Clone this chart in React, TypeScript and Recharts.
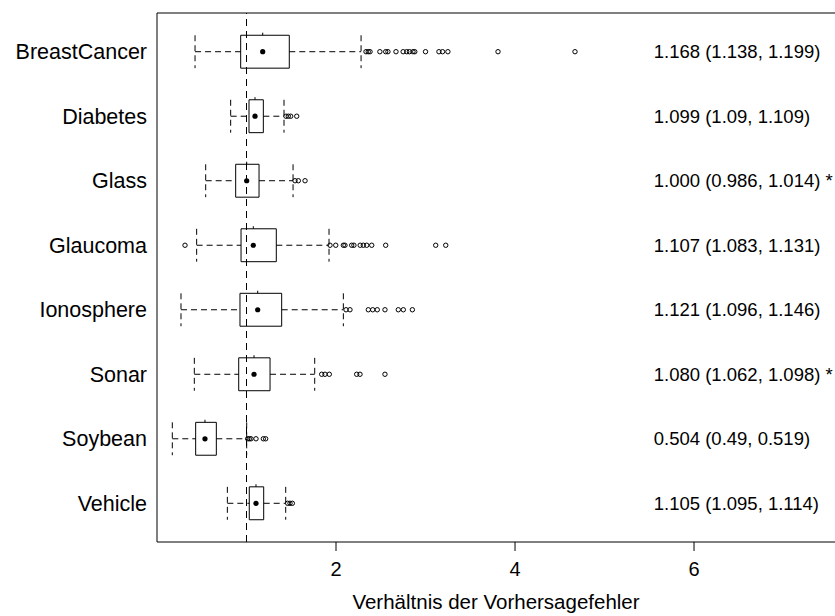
import React from 'react';
import { ComposedChart, XAxis, YAxis, Scatter, ReferenceArea, ReferenceLine, Label } from 'recharts';

const CATEGORIES = ['BreastCancer', 'Diabetes', 'Glass', 'Glaucoma', 'Ionosphere', 'Sonar', 'Soybean', 'Vehicle'];
const WHISKER_LO = [0.425, 0.823, 0.544, 0.443, 0.268, 0.417, 0.171, 0.786];
const Q1 = [0.935, 1.028, 0.879, 0.939, 0.927, 0.913, 0.432, 1.031];
const MEDIAN = [1.181, 1.095, 1.002, 1.076, 1.125, 1.084, 0.536, 1.106];
const Q3 = [1.478, 1.188, 1.14, 1.333, 1.393, 1.263, 0.663, 1.192];
const WHISKER_HI = [2.28, 1.419, 1.52, 1.922, 2.082, 1.762, 1.002, 1.438];
const OUTLIERS = [
  [2.335, 2.36, 2.38, 2.49, 2.555, 2.58, 2.67, 2.75, 2.79, 2.82, 2.86, 2.88, 3.0, 3.15, 3.19, 3.25, 3.81, 4.67],
  [1.441, 1.467, 1.494, 1.561],
  [1.542, 1.579, 1.654],
  [0.313, 1.933, 1.997, 2.082, 2.1, 2.175, 2.2, 2.27, 2.305, 2.343, 2.399, 2.555, 3.114, 3.226],
  [2.112, 2.156, 2.361, 2.41, 2.461, 2.547, 2.696, 2.752, 2.853],
  [1.84, 1.877, 1.925, 2.231, 2.268, 2.547],
  [1.013, 1.031, 1.05, 1.106, 1.188, 1.214],
  [1.46, 1.486, 1.512],
];
const SUMMARIES = [
  '1.168 (1.138, 1.199)',
  '1.099 (1.09, 1.109)',
  '1.000 (0.986, 1.014) *',
  '1.107 (1.083, 1.131)',
  '1.121 (1.096, 1.146)',
  '1.080 (1.062, 1.098) *',
  '0.504 (0.49, 0.519)',
  '1.105 (1.095, 1.114)',
];
const X_TICKS = [2, 4, 6];

const FONT = '"Liberation Sans", Arial, Helvetica, sans-serif';
const X_DOMAIN: [number, number] = [0, 7.575];
const HALF = 0.255;
const LABEL_X = 5.55;
const DASH = '6 4';

const outlierPoints = OUTLIERS.flatMap((vals, i) => vals.map(v => ({ x: v, y: i + 1 })));
const medianPoints = MEDIAN.map((v, i) => ({ x: v, y: i + 1 }));
const labelPoints = SUMMARIES.map((s, i) => ({ x: LABEL_X, y: i + 1, text: s }));

const OpenCircle = (props: any) => (
  <circle cx={props.cx} cy={props.cy} r={2.2} fill="none" stroke="#000" strokeWidth={1} />
);
const Dot = (props: any) => <circle cx={props.cx} cy={props.cy} r={2.6} fill="#000" />;
const SummaryText = (props: any) => (
  <text x={props.cx} y={props.cy} dy="0.36em" fontSize={18.5} fontFamily={FONT} fill="#000">
    {props.payload.text}
  </text>
);

export default function App() {
  return (
    <div style={{ position: 'absolute', left: 0, top: 0, background: '#fff' }}>
      <ComposedChart width={835} height={616} margin={{ top: 0, right: 0, bottom: 0, left: 0 }}>
        <XAxis
          xAxisId="t"
          orientation="top"
          type="number"
          dataKey="x"
          domain={X_DOMAIN}
          ticks={X_TICKS}
          height={13}
          tickSize={13}
          tick={false}
          stroke="#000"
          allowDataOverflow
        />
        <XAxis
          xAxisId="b"
          type="number"
          dataKey="x"
          domain={X_DOMAIN}
          ticks={X_TICKS}
          height={74}
          tickSize={9}
          tickMargin={11}
          stroke="#000"
          tick={{ fill: '#000', fontSize: 20, fontFamily: FONT }}
          allowDataOverflow
        >
          <Label
            value="Verhältnis der Vorhersagefehler"
            position="insideBottom"
            offset={7}
            style={{ fill: '#000', fontSize: 20.5, fontFamily: FONT }}
          />
        </XAxis>
        <YAxis
          type="number"
          dataKey="y"
          domain={[0.4, 8.6]}
          reversed
          ticks={CATEGORIES.map((_, i) => i + 1)}
          tickFormatter={(v: number) => CATEGORIES[v - 1] ?? ''}
          width={157}
          tickLine={false}
          tickSize={0}
          tickMargin={10}
          stroke="#000"
          tick={{ fill: '#000', fontSize: 21.5, fontFamily: FONT }}
          allowDataOverflow
        />

        <ReferenceLine xAxisId="b" x={1} stroke="#000" strokeDasharray="7 5" />

        {CATEGORIES.map((c, i) => {
          const y = i + 1;
          return (
            <React.Fragment key={c}>
              <ReferenceLine xAxisId="b" segment={[{ x: WHISKER_LO[i], y }, { x: Q1[i], y }]} stroke="#000" strokeDasharray={DASH} />
              <ReferenceLine xAxisId="b" segment={[{ x: Q3[i], y }, { x: WHISKER_HI[i], y }]} stroke="#000" strokeDasharray={DASH} />
              <ReferenceLine xAxisId="b" segment={[{ x: WHISKER_LO[i], y: y - HALF }, { x: WHISKER_LO[i], y: y + HALF }]} stroke="#000" strokeDasharray={DASH} />
              <ReferenceLine xAxisId="b" segment={[{ x: WHISKER_HI[i], y: y - HALF }, { x: WHISKER_HI[i], y: y + HALF }]} stroke="#000" strokeDasharray={DASH} />
              <ReferenceArea xAxisId="b" x1={Q1[i]} x2={Q3[i]} y1={y - HALF} y2={y + HALF} fill="#fff" fillOpacity={0} stroke="#000" strokeWidth={1} />
              <ReferenceLine xAxisId="b" segment={[{ x: MEDIAN[i], y: y - HALF }, { x: MEDIAN[i], y: y - HALF - 0.04 }]} stroke="#000" />
            </React.Fragment>
          );
        })}

        <Scatter xAxisId="b" data={outlierPoints} shape={OpenCircle} isAnimationActive={false} />
        <Scatter xAxisId="b" data={medianPoints} shape={Dot} isAnimationActive={false} />
        <Scatter xAxisId="b" data={labelPoints} shape={SummaryText} isAnimationActive={false} />
      </ComposedChart>
    </div>
  );
}
